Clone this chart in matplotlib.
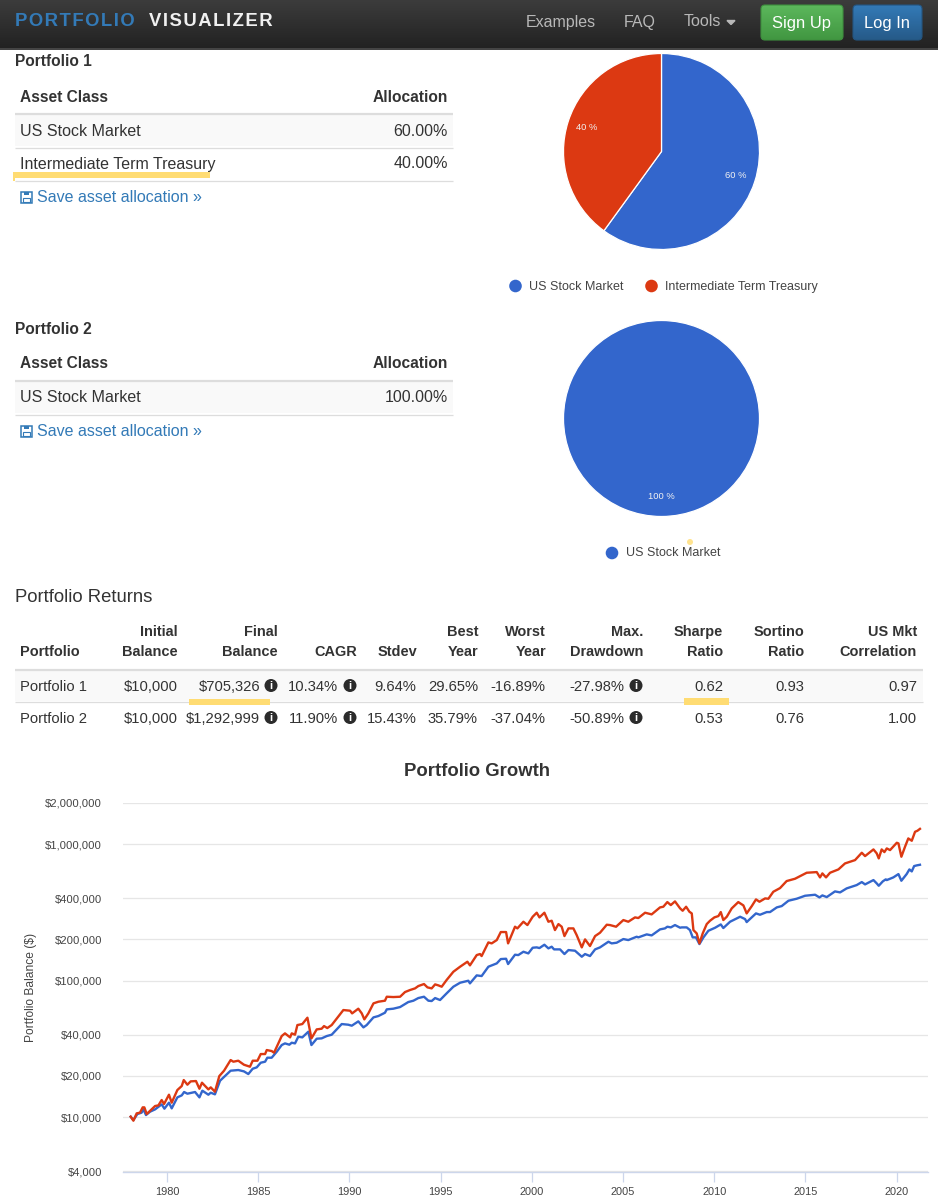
import numpy as np
import matplotlib
matplotlib.use("Agg")
import matplotlib.pyplot as plt
from matplotlib.patches import Circle, FancyBboxPatch, Rectangle
from matplotlib.ticker import FuncFormatter, NullLocator

plt.rcParams['font.family'] = ['Liberation Sans', 'DejaVu Sans']

# allocation tables
assets_1 = ["US Stock Market", "Intermediate Term Treasury"]
alloc_1 = [60, 40]
assets_2 = ["US Stock Market"]
alloc_2 = [100]

# returns table
returns_head_1 = ["", "Initial", "Final", "", "", "Best", "Worst", "Max.", "Sharpe", "Sortino", "US Mkt"]
returns_head_2 = ["Portfolio", "Balance", "Balance", "CAGR", "Stdev", "Year", "Year", "Drawdown", "Ratio", "Ratio", "Correlation"]
returns_p1 = ["Portfolio 1", "$10,000", "$705,326", "10.34%", "9.64%", "29.65%", "-16.89%", "-27.98%", "0.62", "0.93", "0.97"]
returns_p2 = ["Portfolio 2", "$10,000", "$1,292,999", "11.90%", "15.43%", "35.79%", "-37.04%", "-50.89%", "0.53", "0.76", "1.00"]

# growth chart
years_p1 = [1978.01,1978.16,1978.38,1978.61,1978.71,1978.85,1979.07,1979.35,1979.71,1979.86,1980.11,1980.26,1980.57,1980.81,1980.94,1981.12,1981.54,1981.78,1981.94,1982.27,1982.40,1982.63,1982.91,1983.18,1983.49,1983.91,1984.22,1984.46,1984.70,1984.92,1985.14,1985.38,1985.50,1985.74,1986.02,1986.29,1986.47,1986.71,1986.84,1987.02,1987.20,1987.42,1987.75,1987.92,1988.21,1988.48,1988.76,1989.03,1989.58,1989.94,1990.13,1990.49,1990.77,1990.95,1991.32,1991.59,1991.95,1992.05,1992.41,1992.78,
    1993.23,1993.51,1993.78,1994.09,1994.33,1994.51,1994.70,1994.97,1995.33,1995.70,1996.07,1996.52,1996.61,1996.98,1997.25,1997.62,1998.08,1998.30,1998.59,1998.70,1999.08,1999.26,1999.54,1999.81,2000.05,2000.27,2000.42,2000.69,2000.91,2001.09,2001.22,2001.55,2001.79,2002.01,2002.37,2002.74,2002.92,2003.19,2003.47,2003.74,2004.20,2004.38,2004.65,2005.02,2005.29,2005.75,2005.84,2006.30,2006.57,2007.03,2007.30,2007.43,2007.62,2007.85,2008.13,
    2008.22,2008.49,2008.67,2008.82,2009.00,2009.19,2009.41,2009.68,2010.05,2010.36,2010.50,2010.87,2011.42,2011.69,2011.78,2012.06,2012.29,2012.51,2012.88,2013.06,2013.43,2013.70,2014.07,2014.52,2014.98,2015.53,2015.77,2015.93,2016.17,2016.62,2016.90,2017.26,2017.81,2018.09,2018.27,2018.73,2018.91,2019.02,2019.24,2019.40,2019.46,2019.82,2020.10,2020.26,2020.55,2020.70,2020.83,2020.96,2021.10,2021.28]
balance_p1 = [10056,9506,10520,10760,11380,10340,10940,11380,12380,11510,12740,11570,13930,14410,15250,14820,15250,13930,15600,14570,15070,14660,18450,19960,21850,22100,21600,20650,22590,23110,25000,25430,27200,27200,30100,33680,34640,33880,35030,34640,38770,38340,42190,33680,37490,37700,39200,40100,48000,47470,46680,50210,45380,47200,53720,54950,58110,61500,62200,63950,
    69580,71180,74430,76110,71180,70770,74430,71990,80540,90120,96400,99700,95350,109100,107900,126300,133600,143700,144500,132100,154600,153700,162600,158100,174000,175000,173000,183000,172100,177000,169200,169200,156400,167300,165400,149500,156400,151200,169200,175000,192500,187200,189300,201400,198000,209500,207200,217900,214200,237100,241100,248000,245200,255000,243900,
    245200,245200,234400,207200,207200,185100,207200,231700,243800,257800,242500,269800,293500,282200,268200,290300,310500,303500,317600,317600,343600,351300,384500,397600,418200,425400,406600,420600,408900,450000,442500,473400,500700,526800,506500,544800,515000,495000,532800,551000,544800,569900,602900,538700,602900,652300,630500,690000,697900,705326]

years_p2 = [1978.01,1978.16,1978.34,1978.52,1978.67,1978.76,1978.89,1979.16,1979.35,1979.53,1979.71,1979.84,1980.11,1980.26,1980.57,1980.81,1980.92,1981.12,1981.30,1981.59,1981.78,1981.92,1982.27,1982.40,1982.63,1982.87,1983.13,1983.49,1983.64,1983.91,1984.22,1984.55,1984.70,1984.96,1985.14,1985.38,1985.47,1985.74,1985.87,1986.29,1986.47,1986.75,1986.84,1987.02,1987.15,1987.42,1987.70,1987.92,1988.21,1988.48,1988.61,1988.79,1989.03,1989.67,1990.04,1990.15,1990.49,1990.68,1990.82,1991.04,1991.32,1991.59,1991.95,1992.05,1992.41,1992.78,
    1993.05,1993.32,1993.60,1993.78,1994.09,1994.28,1994.51,1994.70,1994.88,1995.06,1995.33,1995.70,1996.07,1996.47,1996.61,1996.98,1997.16,1997.25,1997.62,1997.80,1998.08,1998.30,1998.59,1998.70,1999.08,1999.21,1999.54,1999.76,2000.05,2000.27,2000.42,2000.69,2000.91,2001.09,2001.27,2001.46,2001.64,2001.79,2002.01,2002.28,2002.46,2002.74,2002.92,2003.19,2003.47,2003.74,2004.11,2004.29,2004.62,2005.02,2005.29,2005.66,2005.84,2006.21,2006.57,2007.03,2007.21,2007.43,2007.62,2007.85,2008.13,
    2008.27,2008.46,2008.64,2008.77,2008.86,2009.04,2009.19,2009.37,2009.59,2009.77,2010.01,2010.23,2010.36,2010.50,2010.69,2010.96,2011.32,2011.60,2011.78,2012.06,2012.29,2012.48,2012.79,2012.97,2013.24,2013.61,2013.97,2014.43,2014.71,2015.07,2015.62,2015.80,2015.93,2016.13,2016.35,2016.81,2017.17,2017.72,2018.09,2018.27,2018.73,2018.91,2019.02,2019.18,2019.33,2019.46,2019.64,2020.01,2020.10,2020.26,2020.46,2020.64,2020.83,2021.01,2021.14,2021.28]
balance_p2 = [10056,9400,10640,10760,11770,11770,10520,11380,12040,12170,13320,12450,14570,12740,15770,16870,18660,17250,18250,18350,16120,17840,15940,16490,15330,19960,21850,26150,25430,25860,24170,23370,25860,25860,28940,28940,30960,30440,29600,39200,41020,38340,41020,40100,47200,48000,53420,37700,43870,44370,46400,44870,47200,60800,60120,57460,62200,57460,51940,57460,68040,69970,71170,76100,75700,76100,
    82370,85190,87620,91140,94280,89130,87620,93730,92170,90120,100900,116000,126300,137400,129200,153700,156400,151200,190300,187200,198000,226700,226700,187200,248000,241100,269800,255000,293600,314100,290300,314100,269800,274400,234400,259300,248000,211800,241100,241100,215400,175000,200300,179000,211800,224100,256500,255000,248000,277500,269800,290300,287100,314100,305400,343600,347400,375900,357300,380200,338000,
    324800,347400,319400,310500,234400,221600,187200,221600,259300,274300,290300,296900,317600,277500,293500,337900,375800,355300,310500,351300,393200,378000,399800,397600,447400,476000,535800,557200,582800,616500,623400,569900,609700,569900,616500,652300,721500,763200,864000,816600,913800,854400,785200,913800,873600,929300,903600,1022600,1011100,807600,955900,1100000,1057800,1231000,1252000,1292999]

growth_yticks = [4000, 10000, 20000, 40000, 100000, 200000, 400000, 1000000, 2000000]
growth_xticks = [1980, 1985, 1990, 1995, 2000, 2005, 2010, 2015, 2020]

BLUE = "#3366cc"
RED = "#dc3912"
LINK = "#337ab7"
INK = "#333333"
MARK = "#ffdc73"
W, H = 938, 1200


def pt(px):
    # font size from css pixels at 100 dpi
    return px * 0.72


def box(x0, y0, x1, y1):
    return [x0 / W, 1 - y1 / H, (x1 - x0) / W, (y1 - y0) / H]


fig = plt.figure(figsize=(9.38, 12), dpi=100, facecolor="white")
ax = fig.add_axes([0, 0, 1, 1])
ax.set_xlim(0, W)
ax.set_ylim(H, 0)
ax.axis("off")


def label(x, y, s, size=16, color=INK, ha="left", weight="normal", **kw):
    ax.text(x, y, s, fontsize=pt(size), color=color, ha=ha, va="center", weight=weight, **kw)


def hline(y, x0=15, x1=453, color="#dddddd", lw=1.0):
    ax.plot([x0, x1], [y, y], color=color, lw=lw, solid_capstyle="butt")


def gradient_box(x0, y0, x1, y1, top, bottom, edge=None):
    grad = np.linspace(0, 1, 64).reshape(-1, 1)
    cmap = matplotlib.colors.LinearSegmentedColormap.from_list("g", [top, bottom])
    im = ax.imshow(grad, extent=(x0, x1, y1, y0), cmap=cmap, aspect="auto", zorder=2)
    if edge:
        patch = FancyBboxPatch((x0 + 3, y0 + 3), x1 - x0 - 6, y1 - y0 - 6, boxstyle="round,pad=3,rounding_size=4",
                               fc="none", ec=edge, lw=0.8, zorder=3)
        ax.add_patch(patch)
        im.set_clip_path(patch)


def save_link(y):
    # floppy icon
    ax.add_patch(Rectangle((21, y - 5.5), 10.5, 11, fc="none", ec=LINK, lw=1.1))
    ax.add_patch(Rectangle((23.5, y - 5.5), 5, 3.5, fc=LINK, ec="none"))
    ax.add_patch(Rectangle((23, y + 1), 6.5, 4, fc="none", ec=LINK, lw=0.8))
    label(37, y, "Save asset allocation »", color=LINK)


def info(x, y):
    ax.add_patch(Circle((x, y), 6.5, fc="#2b2b2b", ec="none", zorder=3))
    ax.text(x, y + 0.3, "i", color="white", fontsize=pt(11), weight="bold", ha="center", va="center", zorder=4)


def alloc_table(title, title_y, assets, alloc):
    label(15, title_y, title, size=15.5, weight="bold")
    head_y = title_y + 35
    label(20, head_y, "Asset Class", size=15.5, weight="bold")
    label(448, head_y, "Allocation", size=15.5, weight="bold", ha="right")
    hline(head_y + 16.5, lw=1.6)
    row_h = 33
    ax.add_patch(Rectangle((15, head_y + 18), 438, row_h - 2, fc="#f9f9f9", ec="none"))
    for i, (name, val) in enumerate(zip(assets, alloc)):
        y = head_y + 34 + i * row_h
        label(20, y, name)
        label(448, y, f"{val:.2f}%", ha="right")
        hline(y + 16.5, lw=0.9)
    save_link(head_y + 34 + len(assets) * row_h)


def pie(cx, cy, r, values):
    a = fig.add_axes(box(cx - r, cy - r, cx + r, cy + r))
    wedges, _, autos = a.pie(values, colors=[BLUE, RED][:len(values)], startangle=90, counterclock=False,
                             autopct="%d %%", pctdistance=0.8, radius=1,
                             wedgeprops=dict(edgecolor="white", linewidth=0.9))
    a.set_xlim(-1, 1)
    a.set_ylim(-1, 1)
    for w in wedges:
        w.set_clip_on(False)
    for t in autos:
        t.set_color("#f2f2f2")
        t.set_fontsize(pt(9.4))


# navbar
gradient_box(0, 0, W, 48, "#3c3c3c", "#222222")
hline(48.5, 0, W, color="#0b0b0b", lw=1.1)
hair = "\u200a"
ax.text(15, 22, hair.join("PORTFOLIO"), color="#337ab7", fontsize=pt(18.5), weight="bold", ha="left", va="center", zorder=5)
ax.text(149, 22, hair.join("VISUALIZER"), color="#f0f0f0", fontsize=pt(18.5), weight="bold", ha="left", va="center", zorder=5)
for x, s in [(526, "Examples"), (624, "FAQ"), (684, "Tools")]:
    ax.text(x, 22, s, color="#b8b8b8", fontsize=pt(16), ha="left", va="center", zorder=5)
ax.fill([727, 735, 731], [20.5, 20.5, 24.5], color="#b8b8b8", zorder=5)
gradient_box(761, 5, 843, 40, "#5cb85c", "#419641", edge="#3e8f3e")
gradient_box(853, 5, 922, 40, "#337ab7", "#265a88", edge="#245580")
ax.text(802, 23.5, "Sign Up", color="white", fontsize=pt(16.5), ha="center", va="center", zorder=5)
ax.text(887.5, 23.5, "Log In", color="white", fontsize=pt(16.5), ha="center", va="center", zorder=5)

# allocations
alloc_table("Portfolio 1", 62, assets_1, alloc_1)
alloc_table("Portfolio 2", 329, assets_2, alloc_2)
ax.add_patch(Rectangle((13, 172), 197, 6, fc=MARK, ec="none", zorder=3))
ax.add_patch(Rectangle((13, 172), 2, 9, fc=MARK, ec="none", zorder=3))
ax.add_patch(Circle((690, 542), 3, fc=MARK, ec="none", alpha=0.8, zorder=5))

pie(661.5, 151.5, 98, alloc_1)
pie(661.5, 418.5, 98, alloc_2)
ax.add_patch(Circle((515.5, 286), 6.3, fc=BLUE, ec="none"))
label(529, 287, assets_1[0], size=12.5, color="#444444")
ax.add_patch(Circle((651.5, 286), 6.3, fc=RED, ec="none"))
label(665, 287, assets_1[1], size=12.5, color="#444444")
ax.add_patch(Circle((612, 553), 6.3, fc=BLUE, ec="none"))
label(625.5, 553.5, assets_2[0], size=12.5, color="#444444")

# returns table
label(15, 597, "Portfolio Returns", size=18.5)
col_right = [20, 178, 278, 357, 417, 478, 546, 643.5, 723, 804, 917]
val_right = [20, 178, 260, 338, 416.5, 478, 545, 624, 723, 804, 917]
icon_x = {2: 271, 3: 350, 7: 636}
ax.add_patch(Rectangle((15, 671), 908, 30, fc="#f9f9f9", ec="none"))
hline(669.5, 15, 923, lw=1.6)
hline(701.5, 15, 923, lw=0.9)
for i in range(len(col_right)):
    ha = "left" if i == 0 else "right"
    label(col_right[i], 632, returns_head_1[i], size=14.5, weight="bold", ha=ha)
    label(col_right[i], 652.5, returns_head_2[i], size=14.5, weight="bold", ha=ha)
    label(val_right[i], 687, returns_p1[i], size=14.8, ha=ha)
    label(val_right[i], 719, returns_p2[i], size=14.8, ha=ha)
    if i in icon_x:
        info(icon_x[i], 685.5)
        info(icon_x[i], 717.5)
ax.add_patch(Rectangle((189, 699), 81, 6, fc=MARK, ec="none", zorder=3))
ax.add_patch(Rectangle((684, 698), 45, 7, fc=MARK, ec="none", zorder=3))

# growth chart
label(476.5, 772, "Portfolio Growth", size=18.5, weight="bold", ha="center")
g = fig.add_axes(box(123, 803, 928, 1172))
g.patch.set_alpha(0)
g.plot(years_p1, balance_p1, color=BLUE, lw=1.7, solid_joinstyle="round", clip_on=False, zorder=3)
g.plot(years_p2, balance_p2, color=RED, lw=1.7, solid_joinstyle="round", clip_on=False, zorder=4)
g.set_yscale("log")
g.set_xlim(1977.59, 2021.72)
g.set_ylim(3955, 2000000)
g.set_yticks(growth_yticks)
g.yaxis.set_minor_locator(NullLocator())
g.yaxis.set_major_formatter(FuncFormatter(lambda v, _: f"${v:,.0f}"))
g.set_xticks(growth_xticks)
g.grid(axis="y", color="#e6e6e6", lw=0.9)
g.set_axisbelow(True)
for s in ["top", "left", "right"]:
    g.spines[s].set_visible(False)
g.spines["bottom"].set_color("#ccd6eb")
g.spines["bottom"].set_linewidth(1.0)
g.tick_params(axis="y", length=0, pad=15, labelsize=pt(11.3), labelcolor="#444444")
g.tick_params(axis="x", length=7, width=0.9, color="#ccd6eb", pad=4, labelsize=pt(11), labelcolor="#444444")
g.set_ylabel("Portfolio Balance ($)", fontsize=pt(12), color="#444444")
g.yaxis.set_label_coords((37 - 123) / 805, (1172 - 987) / 369)

fig.savefig("out.png", dpi=100)
